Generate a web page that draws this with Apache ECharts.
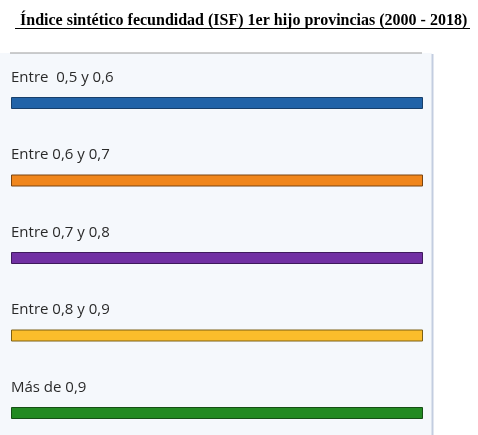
<!DOCTYPE html>
<html>
<head>
<meta charset="utf-8">
<script src="https://cdn.jsdelivr.net/npm/echarts@6/dist/echarts.min.js"></script>
<style>
  html, body { margin: 0; padding: 0; background: #fff; }
  #chart { width: 478px; height: 435px; }
</style>
</head>
<body>
<div id="chart"></div>
<script>
const categories = ['Entre  0,5 y 0,6', 'Entre 0,6 y 0,7', 'Entre 0,7 y 0,8', 'Entre 0,8 y 0,9', 'Más de 0,9']
const values = [1, 1, 1, 1, 1]
const fills = ['#2163a8', '#f0861c', '#7130a3', '#fbbd2b', '#228a22']
const borders = ['#173f6b', '#7a4510', '#3e1a5c', '#7d6015', '#154f15']

let myChart = echarts.init(document.getElementById('chart'))
myChart.setOption({
    animation: false,
    title: {
        text: 'Índice sintético fecundidad (ISF) 1er hijo provincias (2000 - 2018)',
        left: 15,
        top: 8,
        textStyle: {
            fontFamily: 'Liberation Serif',
            fontWeight: 'bold',
            fontSize: 16,
            color: '#000'
        }
    },
    graphic: [
        // panel background
        { type: 'rect', shape: { x: 0, y: 53, width: 432, height: 382 }, style: { fill: '#f5f8fc' }, z: -10 },
        { type: 'line', shape: { x1: 10, y1: 53, x2: 422, y2: 53 }, style: { stroke: '#9a9a9a', lineWidth: 1 } },
        { type: 'line', shape: { x1: 432.5, y1: 54, x2: 432.5, y2: 435 }, style: { stroke: '#c3cde0', lineWidth: 2 } },
        // title underline
        { type: 'line', shape: { x1: 15, y1: 28.5, x2: 470, y2: 28.5 }, style: { stroke: '#000', lineWidth: 1.2 } }
    ],
    grid: {
        left: 11,
        top: 103,
        width: 412,
        bottom: 22
    },
    xAxis: {
        type: 'value',
        min: 0,
        max: 1,
        show: false
    },
    yAxis: {
        type: 'category',
        inverse: true,
        boundaryGap: false,
        data: categories,
        show: false
    },
    series: [
        {
            type: 'bar',
            barWidth: 12,
            data: values.map((v, i) => ({
                value: v,
                itemStyle: { color: fills[i], borderColor: borders[i], borderWidth: 1 }
            })),
            label: {
                show: true,
                position: [0, -27],
                formatter: p => categories[p.dataIndex],
                fontFamily: 'Open Sans',
                fontSize: 15,
                color: '#2a2a2a'
            }
        }
    ]
})
</script>
</body>
</html>
